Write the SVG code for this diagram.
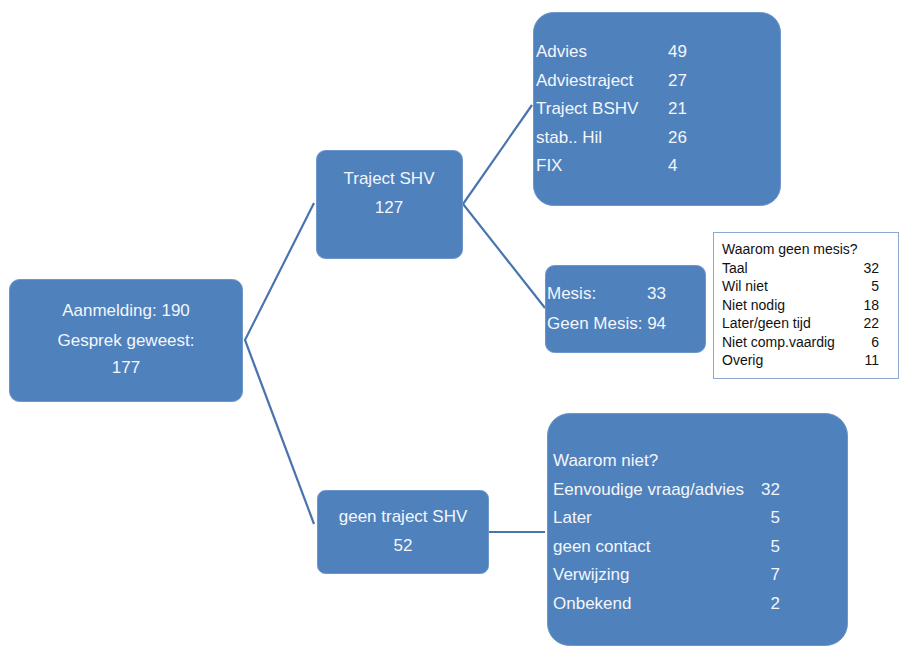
<svg xmlns="http://www.w3.org/2000/svg" width="899" height="646" viewBox="0 0 899 646">
<style>
.box{fill:#4f81bd;stroke:#6d97cb;stroke-width:1}
.t{font-family:"Liberation Sans",Arial,sans-serif;font-size:17px;fill:#f4f6fa}
.c{text-anchor:middle}
.r{text-anchor:end}
.tb{font-family:"Liberation Sans",Arial,sans-serif;font-size:14px;fill:#111}
.ln{stroke:#4a74ad;stroke-width:2.2;fill:none}
</style>
<rect width="899" height="646" fill="#ffffff"/>
<g id="connectors">
<path class="ln" d="M314,203 L245,340 L314,524"/>
<path class="ln" d="M532,105 L463,204 L545,308"/>
<path class="ln" d="M489,532 L545,532"/>
</g>
<g id="aanmelding">
<rect class="box" x="9.5" y="279.5" width="233" height="122" rx="10"/>
<text class="t c" x="126" y="316">Aanmelding: 190</text>
<text class="t c" x="126" y="346">Gesprek  geweest:</text>
<text class="t c" x="126" y="373">177</text>
</g>
<g id="traject-shv">
<rect class="box" x="316.5" y="150.5" width="146" height="108" rx="9"/>
<text class="t c" x="389" y="184">Traject SHV</text>
<text class="t c" x="389" y="213">127</text>
</g>
<g id="traject-details">
<rect class="box" x="533.5" y="12.5" width="247" height="193" rx="20"/>
<text class="t" x="536" y="57">Advies</text><text class="t" x="668" y="57">49</text>
<text class="t" x="536" y="86">Adviestraject</text><text class="t" x="668" y="86">27</text>
<text class="t" x="536" y="114">Traject BSHV</text><text class="t" x="668" y="114">21</text>
<text class="t" x="536" y="143">stab.. Hil</text><text class="t" x="668" y="143">26</text>
<text class="t" x="536" y="171">FIX</text><text class="t" x="668" y="171">4</text>
</g>
<g id="mesis">
<rect class="box" x="545.5" y="265.5" width="160" height="87" rx="9"/>
<text class="t" x="547" y="299">Mesis:</text><text class="t" x="647" y="299">33</text>
<text class="t" x="547" y="329">Geen Mesis: 94</text>
</g>
<g id="waarom-geen-mesis">
<rect x="713.5" y="232.5" width="185" height="146" fill="#ffffff" stroke="#8ea7cc" stroke-width="1"/>
<text class="tb" x="722" y="254">Waarom geen mesis?</text>
<text class="tb" x="722" y="273">Taal</text><text class="tb r" x="879" y="273">32</text>
<text class="tb" x="722" y="291">Wil niet</text><text class="tb r" x="879" y="291">5</text>
<text class="tb" x="722" y="310">Niet nodig</text><text class="tb r" x="879" y="310">18</text>
<text class="tb" x="722" y="328">Later/geen tijd</text><text class="tb r" x="879" y="328">22</text>
<text class="tb" x="722" y="347">Niet comp.vaardig</text><text class="tb r" x="879" y="347">6</text>
<text class="tb" x="722" y="365">Overig</text><text class="tb r" x="879" y="365">11</text>
</g>
<g id="geen-traject-shv">
<rect class="box" x="317.5" y="490.5" width="171" height="83" rx="8"/>
<text class="t c" x="403" y="522">geen traject SHV</text>
<text class="t c" x="403" y="551">52</text>
</g>
<g id="waarom-niet">
<rect class="box" x="547.5" y="413.5" width="300" height="232" rx="22"/>
<text class="t" x="553" y="466">Waarom niet?</text>
<text class="t" x="553" y="495">Eenvoudige vraag/advies</text><text class="t r" x="780" y="495">32</text>
<text class="t" x="553" y="523">Later</text><text class="t r" x="780" y="523">5</text>
<text class="t" x="553" y="552">geen contact</text><text class="t r" x="780" y="552">5</text>
<text class="t" x="553" y="580">Verwijzing</text><text class="t r" x="780" y="580">7</text>
<text class="t" x="553" y="609">Onbekend</text><text class="t r" x="780" y="609">2</text>
</g>
</svg>
